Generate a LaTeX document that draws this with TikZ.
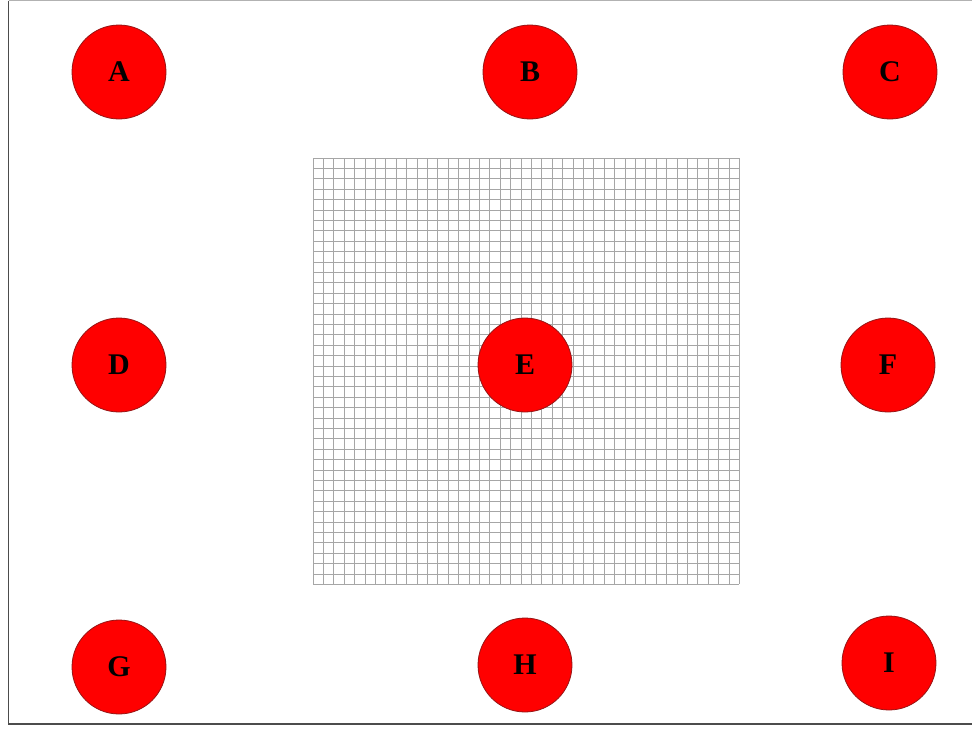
\documentclass[tikz,border=0pt]{standalone}
\usepackage{fontspec}
\setmainfont{Liberation Serif}
\usepackage{xcolor}
\usepackage{tikz}

\definecolor{dotred}{RGB}{255,0,0}
\definecolor{dotrim}{RGB}{150,20,20}

\begin{document}
\begin{tikzpicture}[x=1pt, y=-1pt,
  dot/.style={circle, fill=dotred, draw=dotrim, line width=0.8pt, minimum size=94pt, inner sep=0pt, font=\fontsize{30}{30}\selectfont\bfseries},
  gridline/.style={draw=gray!70, line width=0.8pt},
  frame/.style={draw=black!70, line width=1.8pt}]
\useasboundingbox (0,0) rectangle (972,729);
% outer frame (no right side)
\draw[draw=black!30, line width=1pt] (8.5,0.5) -- (972,0.5);
\draw[frame] (8.5,0.5) -- (8.5,724) -- (972,724);
% square grid behind E
\foreach \i in {0,...,41} {
  \draw[gridline] (313+10.4*\i,158) -- (313+10.4*\i,584.4);
  \draw[gridline] (313,158+10.4*\i) -- (739.4,158+10.4*\i);
}
% the nine dots
\node[dot] (A) at (119,72) {A};
\node[dot] (B) at (530,72) {B};
\node[dot] (C) at (890,72) {C};
\node[dot] (D) at (119,365) {D};
\node[dot] (E) at (525,365) {E};
\node[dot] (F) at (888,365) {F};
\node[dot] (G) at (119,667) {G};
\node[dot] (H) at (525,665) {H};
\node[dot] (I) at (889,663) {I};
\end{tikzpicture}
\end{document}
